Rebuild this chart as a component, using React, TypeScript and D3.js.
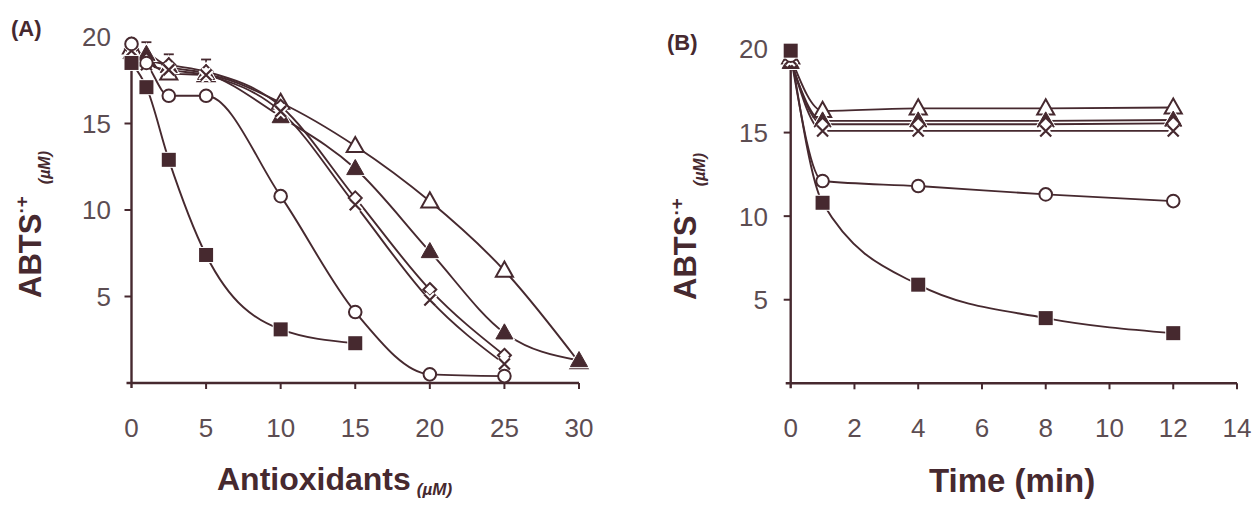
import React from 'react';
import * as d3 from 'd3';

// ---------- Data ----------
// Panel A: ABTS•+ remaining vs antioxidant concentration (µM)
const concA = [0, 1, 2.5, 5, 10, 15, 20, 25, 30];
const squareA = [18.5, 17.1, 12.9, 7.4, 3.1, 2.3];
const circleA = [19.6, 18.5, 16.6, 16.6, 10.8, 4.1, 0.5, 0.4];
const diamondA = [19.3, 18.7, 18.4, 18.0, 16.0, 10.7, 5.4, 1.6];
const crossA = [19.2, 18.4, 18.1, 17.8, 15.7, 10.3, 4.8, 1.1];
const filledTriA = [19.1, 19.0, 18.3, 17.9, 15.4, 12.4, 7.6, 2.9, 1.3];
const openTriA = [19.4, 18.7, 17.9, 17.8, 16.2, 13.7, 10.5, 6.5, 1.2];
const errTriA = [0.5, 0.7, 0.7, 0.8, 0.5, 0, 0, 0, 0];

// Panel B: ABTS•+ remaining vs time (min)
const timeB = [0, 1, 4, 8, 12];
const squareB = [19.9, 10.8, 5.9, 3.9, 3.0];
const circleB = [19.6, 12.1, 11.8, 11.3, 10.9];
const crossB = [19.4, 15.1, 15.1, 15.1, 15.1];
const diamondB = [19.3, 15.5, 15.5, 15.5, 15.55];
const filledTriB = [19.2, 15.7, 15.7, 15.7, 15.75];
const openTriB = [19.5, 16.3, 16.45, 16.45, 16.5];

const ticksAx = [0, 5, 10, 15, 20, 25, 30];
const ticksBx = [0, 2, 4, 6, 8, 10, 12, 14];
const ticksY = [5, 10, 15, 20];

// ---------- Style ----------
const INK = '#46292f';
const TXT = '#5c4d52';
const FONT = 'Liberation Sans, Arial, Helvetica, sans-serif';

type MarkerType = 'square' | 'circle' | 'cross' | 'diamond' | 'filledTri' | 'openTri';

function Marker({ type, cx, cy }: { type: MarkerType; cx: number; cy: number }) {
  const s = 7;
  if (type === 'square') {
    return (
      <g>
        <rect x={cx - s - 1} y={cy - s - 1} width={2 * s + 2} height={2 * s + 2} fill="#fff" />
        <rect x={cx - s} y={cy - s} width={2 * s} height={2 * s} fill={INK} />
      </g>
    );
  }
  if (type === 'circle') {
    return <circle cx={cx} cy={cy} r={6.3} fill="#fff" stroke={INK} strokeWidth={2} />;
  }
  if (type === 'cross') {
    const c = 5.5;
    const d = `M${cx - c},${cy - c}L${cx + c},${cy + c}M${cx - c},${cy + c}L${cx + c},${cy - c}`;
    return (
      <g>
        <path d={d} stroke="#fff" strokeWidth={6} />
        <path d={d} stroke={INK} strokeWidth={2.2} />
      </g>
    );
  }
  if (type === 'diamond') {
    const c = 6.5;
    const d = `M${cx},${cy - c}L${cx + c},${cy}L${cx},${cy + c}L${cx - c},${cy}Z`;
    return <path d={d} fill="#fff" stroke={INK} strokeWidth={2} />;
  }
  const t = 9;
  const d = `M${cx},${cy - t}L${cx + t * 0.95},${cy + t * 0.68}L${cx - t * 0.95},${cy + t * 0.68}Z`;
  if (type === 'filledTri') {
    return (
      <g>
        <path d={d} fill="#fff" stroke="#fff" strokeWidth={3} />
        <path d={d} fill={INK} stroke={INK} strokeWidth={1} />
      </g>
    );
  }
  return <path d={d} fill="#fff" stroke={INK} strokeWidth={2} />;
}

interface Series {
  type: MarkerType;
  y: number[];
  err?: number[];
}

function Panel({
  xs,
  series,
  xScale,
  yScale,
  xTicks,
  xMax,
  yTop,
  yTickEnd,
}: {
  xs: number[];
  series: Series[];
  xScale: d3.ScaleLinear<number, number>;
  yScale: d3.ScaleLinear<number, number>;
  xTicks: number[];
  xMax: number;
  yTop: number;
  yTickEnd: number;
}) {
  const line = d3
    .line<[number, number]>()
    .x((d) => xScale(d[0]))
    .y((d) => yScale(d[1]))
    .curve(d3.curveMonotoneX);
  const x0 = xScale(0);
  const y0 = yScale(0);
  return (
    <g>
      {/* axes */}
      <line x1={x0} x2={x0} y1={y0 + 5} y2={yScale(yTop)} stroke={INK} strokeWidth={2.4} />
      <line x1={x0 - 5} x2={xScale(xMax)} y1={y0} y2={y0} stroke={INK} strokeWidth={2.4} />
      {xTicks.map((t) => (
        <g key={'xt' + t}>
          {t !== 0 && <line x1={xScale(t)} x2={xScale(t)} y1={y0} y2={y0 + 6} stroke={INK} strokeWidth={2} />}
          <text x={xScale(t)} y={437} textAnchor="middle" fontSize={26} fill={TXT} fontFamily={FONT}>
            {t}
          </text>
        </g>
      ))}
      {ticksY.map((t) => (
        <g key={'yt' + t}>
          {t !== 20 && <line x1={x0 - 7} x2={x0} y1={yScale(t)} y2={yScale(t)} stroke={INK} strokeWidth={2} />}
          <text x={yTickEnd} y={yScale(t)} dy="0.36em" textAnchor="end" fontSize={26} fill={TXT} fontFamily={FONT}>
            {t}
          </text>
        </g>
      ))}
      {/* lines */}
      {series.map((s, i) => (
        <path
          key={'l' + i}
          d={line(s.y.map((v, j) => [xs[j], v] as [number, number])) || ''}
          fill="none"
          stroke={INK}
          strokeWidth={1.9}
        />
      ))}
      {/* error bars */}
      {series.map((s, i) =>
        s.err
          ? s.err.map((e, j) =>
              e > 0 ? (
                <g key={'e' + i + '_' + j}>
                  <line
                    x1={xScale(xs[j])}
                    x2={xScale(xs[j])}
                    y1={yScale(s.y[j])}
                    y2={yScale(s.y[j] + e)}
                    stroke={INK}
                    strokeWidth={1.8}
                  />
                  <line
                    x1={xScale(xs[j]) - 5}
                    x2={xScale(xs[j]) + 5}
                    y1={yScale(s.y[j] + e)}
                    y2={yScale(s.y[j] + e)}
                    stroke={INK}
                    strokeWidth={1.8}
                  />
                </g>
              ) : null
            )
          : null
      )}
      {/* markers */}
      {series.map((s, i) =>
        s.y.map((v, j) => <Marker key={'m' + i + '_' + j} type={s.type} cx={xScale(xs[j])} cy={yScale(v)} />)
      )}
    </g>
  );
}

export default function App() {
  const W = 1260;
  const H = 509;
  const xA = d3.scaleLinear().domain([0, 30]).range([131.5, 579]);
  const yA = d3.scaleLinear().domain([0, 20]).range([383, 37]);
  const xB = d3.scaleLinear().domain([0, 14]).range([790.7, 1237]);
  const yB = d3.scaleLinear().domain([0, 20]).range([383.3, 49]);

  const seriesA: Series[] = [
    { type: 'openTri', y: openTriA },
    { type: 'filledTri', y: filledTriA, err: errTriA },
    { type: 'diamond', y: diamondA },
    { type: 'cross', y: crossA },
    { type: 'circle', y: circleA },
    { type: 'square', y: squareA },
  ];
  const seriesB: Series[] = [
    { type: 'openTri', y: openTriB },
    { type: 'filledTri', y: filledTriB },
    { type: 'diamond', y: diamondB },
    { type: 'cross', y: crossB },
    { type: 'circle', y: circleB },
    { type: 'square', y: squareB },
  ];

  return (
    <svg
      width={W}
      height={H}
      viewBox={`0 0 ${W} ${H}`}
      style={{ position: 'absolute', left: 0, top: 0, background: '#fff' }}
      fontFamily={FONT}
    >
      <rect width={W} height={H} fill="#fff" />
      {/* panel labels */}
      <text x={11} y={36} fontSize={22} fontWeight="bold" fill={INK}>(A)</text>
      <text x={667} y={50} fontSize={22} fontWeight="bold" fill={INK}>(B)</text>

      <Panel xs={concA} series={seriesA} xScale={xA} yScale={yA} xTicks={ticksAx} xMax={30} yTop={20} yTickEnd={111} />
      <Panel xs={timeB} series={seriesB} xScale={xB} yScale={yB} xTicks={ticksBx} xMax={14} yTop={19} yTickEnd={768} />

      {/* y-axis titles */}
      <text transform="translate(41,298) rotate(-90)" fontSize={31} fontWeight="bold" fill={INK}>
        ABTS
        <tspan fontSize={19} dy={-13}>·+</tspan>
        <tspan fontSize={16} fontStyle="italic" dx={12} dy={22}>(µM)</tspan>
      </text>
      <text transform="translate(696,300) rotate(-90)" fontSize={31} fontWeight="bold" fill={INK}>
        ABTS
        <tspan fontSize={19} dy={-13}>·+</tspan>
        <tspan fontSize={16} fontStyle="italic" dx={12} dy={22}>(µM)</tspan>
      </text>

      {/* x-axis titles */}
      <text x={217} y={490} fontSize={32} fontWeight="bold" fill={INK}>
        Antioxidants
        <tspan fontSize={17} fontStyle="italic" dx={6} dy={5}>(µM)</tspan>
      </text>
      <text x={929} y={492} fontSize={33} fontWeight="bold" fill={INK}>
        Time (min)
      </text>
    </svg>
  );
}
